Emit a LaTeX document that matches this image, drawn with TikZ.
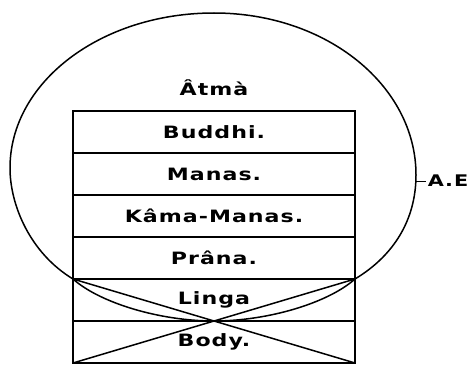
\documentclass[tikz,border=0pt]{standalone}
\usepackage{fontspec}
\newfontfamily\plate{DejaVu Sans}[FakeStretch=1.3,LetterSpace=6]
\usepackage{tikz}
\usetikzlibrary{positioning}

\begin{document}
\begin{tikzpicture}[x=1pt,y=1pt,node distance=0pt,line width=1.5pt,
  lbl/.style={font=\plate\bfseries\fontsize{17}{19}\selectfont},
  layer/.style={draw,lbl,minimum width=282pt,minimum height=42pt,inner sep=0pt,outer sep=0pt}]
\useasboundingbox (0,0) rectangle (468,365);
% the six principles
\node[layer] (buddhi) at (214,233) {Buddhi.};
\node[layer,below=of buddhi] (manas) {Manas.};
\node[layer,below=of manas] (kama) {Kâma-Manas.};
\node[layer,below=of kama] (prana) {Prâna.};
\node[layer,below=of prana] (linga) {Linga};
\node[layer,below=of linga] (body) {Body.};
\node[lbl] (atma) at (214,277) {Âtmà};
% auric egg
\draw (linga.north west) .. controls (30,112) and (10,160) .. (10,197)
  .. controls (10,283) and (101,352) .. (214,352)
  .. controls (327,352) and (416,279) .. (416,190)
  .. controls (416,150) and (398,112) .. (linga.north east);
\draw (linga.north west) .. controls (100,62) and (160,44) .. (body.north);
\draw (linga.north east) .. controls (328,62) and (268,44) .. (body.north);
\draw (linga.north west) -- (body.south east);
\draw (linga.north east) -- (body.south west);
\coordinate (egg) at (416,184);
\node[lbl,font=\plate\bfseries\fontsize{16}{18}\selectfont,anchor=west,inner sep=1pt] (ae) at (426,184) {A.E};
\draw[line width=1pt] (egg) -- (ae.west);
\end{tikzpicture}
\end{document}
